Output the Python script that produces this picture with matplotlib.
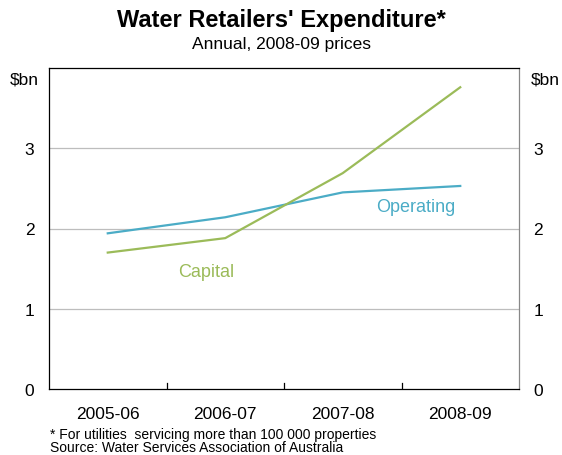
import numpy as np
import matplotlib.pyplot as plt

plt.rcParams['font.family'] = ['Liberation Sans', 'DejaVu Sans']

# data
years = ['2005-06', '2006-07', '2007-08', '2008-09']
operating = [1.94, 2.14, 2.45, 2.53]
capital = [1.70, 1.88, 2.69, 3.76]

c_op = '#4bacc6'
c_cap = '#9bbb59'

fig = plt.figure(figsize=(5.62, 4.56), dpi=100)
ax = fig.add_axes([49/562, 1-390/456, 470/562, 321/456])

x = np.arange(len(years))
ax.plot(x, operating, color=c_op, lw=1.6)
ax.plot(x, capital, color=c_cap, lw=1.6)

ax.set_xlim(-0.5, 3.5)
ax.set_ylim(0, 4)
for v in [1, 2, 3]:
    ax.axhline(v, color='#bdbdbd', lw=0.9, zorder=0)

# category ticks
ax.set_xticks(x)
ax.set_xticklabels(years, fontsize=12.5)
ax.tick_params(axis='x', length=0, pad=12)
for b in [0.5, 1.5, 2.5]:
    ax.plot([b, b], [0, 0.08], color='black', lw=0.9)

ax.set_yticks([0, 1, 2, 3])
ax.set_yticklabels(['0', '1', '2', '3'], fontsize=12.5)
ax.tick_params(axis='y', length=0, pad=10.5, labelright=True, right=False)
ax.text(-0.021, 3.86, '$bn', transform=ax.get_yaxis_transform(), ha='right', va='center', fontsize=12.5)
ax.text(1.025, 3.86, '$bn', transform=ax.get_yaxis_transform(), ha='left', va='center', fontsize=12.5)

for s in ['left', 'top', 'bottom']:
    ax.spines[s].set_color('black')
    ax.spines[s].set_linewidth(0.9)
ax.spines['right'].set_color('#888888')
ax.spines['right'].set_linewidth(0.9)

ax.text(2.62, 2.28, 'Operating', color=c_op, fontsize=13, ha='center', va='center')
ax.text(0.84, 1.46, 'Capital', color=c_cap, fontsize=13, ha='center', va='center')

fig.text(0.5, 1-20/456, "Water Retailers' Expenditure*", ha='center', va='center', fontsize=17, fontweight='bold')
fig.text(0.5, 1-45/456, 'Annual, 2008-09 prices', ha='center', va='center', fontsize=12.5)
fig.text(50/562, 1-435/456, '* For utilities  servicing more than 100 000 properties', ha='left', va='center', fontsize=10)
fig.text(50/562, 1-448/456, 'Source: Water Services Association of Australia', ha='left', va='center', fontsize=10)

fig.savefig('out.png', dpi=100)
